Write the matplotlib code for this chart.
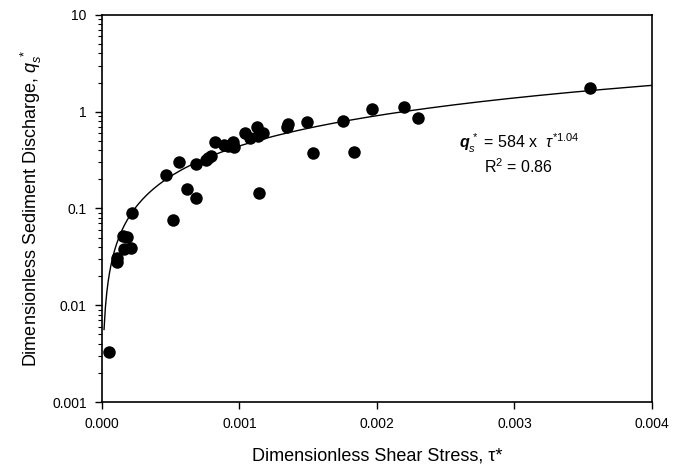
import numpy as np
import matplotlib
matplotlib.use("Agg")
import matplotlib.pyplot as plt
from matplotlib.ticker import FixedLocator, FuncFormatter, LogLocator, NullFormatter

plt.rcParams['font.family'] = ['Liberation Sans', 'DejaVu Sans']
plt.rcParams['mathtext.fontset'] = 'custom'
plt.rcParams['mathtext.rm'] = 'Liberation Sans'
plt.rcParams['mathtext.it'] = 'Liberation Sans:italic'
plt.rcParams['mathtext.bf'] = 'Liberation Sans:bold'
plt.rcParams['mathtext.bfit'] = 'Liberation Sans:bold:italic'

tau = [0.000051, 0.000107, 0.000110, 0.00016, 0.000209, 0.00015, 0.00018, 0.00022,
       0.000465, 0.00052, 0.00056, 0.000616, 0.000684, 0.000684, 0.000773, 0.000755,
       0.000792, 0.000822, 0.000887, 0.000918, 0.00095, 0.00096, 0.00104, 0.001076,
       0.001125, 0.001137, 0.001169, 0.001144, 0.001348, 0.001355, 0.001489, 0.001532,
       0.00175, 0.001833, 0.001964, 0.002196, 0.0023, 0.003549]
qs = [0.0033, 0.028, 0.031, 0.038, 0.0387, 0.052, 0.051, 0.089,
      0.222, 0.076, 0.305, 0.159, 0.288, 0.129, 0.335, 0.32,
      0.35, 0.49, 0.453, 0.44, 0.49, 0.43, 0.607, 0.53,
      0.69, 0.56, 0.60, 0.144, 0.69, 0.75, 0.79, 0.378,
      0.80, 0.386, 1.07, 1.13, 0.855, 1.75]

# fitted power law shown on the chart
coef = 584
expo = 1.04
tau_fit = np.linspace(0.000015, 0.004, 400)
qs_fit = coef * tau_fit ** expo

fig = plt.figure(figsize=(6.83, 4.68), dpi=100)
ax = fig.add_axes([0.1493, 0.141, 0.8053, 0.827])

ax.plot(tau_fit, qs_fit, color='black', lw=1.0)
ax.plot(tau, qs, 'o', color='black', markersize=9, markeredgewidth=0)

ax.set_yscale('log')
ax.set_xlim(0, 0.004)
ax.set_ylim(0.001, 10)

ax.xaxis.set_major_locator(FixedLocator([0, 0.001, 0.002, 0.003, 0.004]))
ax.xaxis.set_major_formatter(FuncFormatter(lambda v, p: "%.3f" % v))
ax.yaxis.set_major_locator(FixedLocator([0.001, 0.01, 0.1, 1, 10]))
ax.yaxis.set_major_formatter(FuncFormatter(lambda v, p: "%g" % v))
ax.yaxis.set_minor_locator(LogLocator(base=10, subs=np.arange(2, 10)))
ax.yaxis.set_minor_formatter(NullFormatter())

ax.tick_params(axis='both', which='major', direction='out', length=5, width=1, labelsize=10, pad=6)
ax.tick_params(axis='y', which='minor', direction='out', length=3, width=0.8)
ax.tick_params(top=False, right=False)
for s in ax.spines.values():
    s.set_linewidth(1.2)

ax.set_xlabel(r'Dimensionless Shear Stress, τ*', fontsize=13, labelpad=12)
ax.set_ylabel(r'Dimensionless Sediment Discharge, $q_s^{\ *}$', fontsize=13, labelpad=6)

ax.text(0.758, 0.669, r'$\mathbfit{q}_s^{\,*}$ = 584 x  $\mathit{\tau}^{*1.04}$',
        transform=ax.transAxes, ha='center', va='center', fontsize=11.5)
ax.text(0.758, 0.607, r'R$^2$ = 0.86', transform=ax.transAxes,
        ha='center', va='center', fontsize=11.5)

fig.savefig('out.png', dpi=100)
